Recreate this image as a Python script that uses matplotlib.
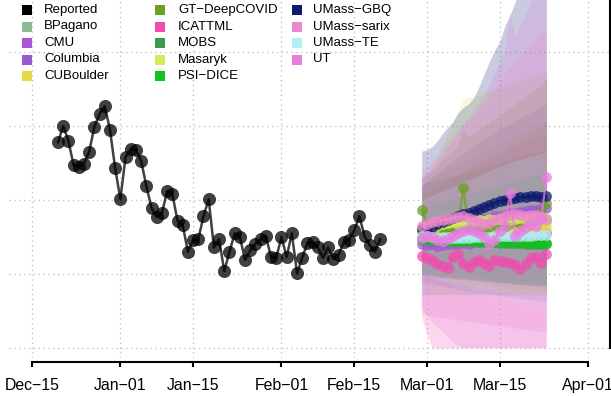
import numpy as np
import matplotlib
matplotlib.use("Agg")
import matplotlib.pyplot as plt
import matplotlib.dates as mdates

plt.rcParams['font.family'] = ['Liberation Sans', 'DejaVu Sans']

# Reported daily values (y units: gridlines at 0..4), starting Dec-20
report_start = np.datetime64('2020-12-20')
reported = [2.78, 3.00, 2.80, 2.47, 2.45, 2.49, 2.65, 2.99, 3.16, 3.27,
            2.95, 2.43, 2.01, 2.58, 2.69, 2.68, 2.53, 2.19, 1.89, 1.77,
            1.82, 2.12, 2.08, 1.72, 1.66, 1.30, 1.46, 1.47, 1.78, 2.01,
            1.36, 1.47, 1.04, 1.30, 1.55, 1.50, 1.19, 1.32, 1.41, 1.47,
            1.51, 1.23, 1.22, 1.50, 1.23, 1.55, 1.01, 1.22, 1.42, 1.43,
            1.36, 1.22, 1.36, 1.20, 1.26, 1.43, 1.46, 1.59, 1.78, 1.51,
            1.39, 1.30, 1.47]

# Forecasts: 25 daily points from Feb-28
fc_start = np.datetime64('2021-02-28')

bpagano_med = [1.60, 1.62, 1.61, 1.63, 1.62, 1.64, 1.63, 1.65, 1.64, 1.66, 1.65, 1.67, 1.66,
               1.68, 1.67, 1.69, 1.68, 1.70, 1.69, 1.71, 1.70, 1.72, 1.71, 1.73, 1.72]
bpagano_lo = [1.05, 1.03, 1.02, 1.00, 0.99, 0.97, 0.96, 0.95, 0.93, 0.92, 0.91, 0.90, 0.88,
              0.87, 0.86, 0.85, 0.84, 0.83, 0.82, 0.81, 0.80, 0.79, 0.78, 0.77, 0.76]
bpagano_hi = [2.20, 2.25, 2.28, 2.33, 2.36, 2.40, 2.44, 2.47, 2.52, 2.55, 2.58, 2.62, 2.66,
              2.69, 2.72, 2.76, 2.80, 2.83, 2.86, 2.90, 2.93, 2.96, 3.00, 3.03, 3.07]

cmu_med = [1.40, 1.39, 1.40, 1.38, 1.39, 1.40, 1.41, 1.40, 1.42, 1.41, 1.43, 1.44, 1.43,
           1.45, 1.44, 1.46, 1.47, 1.46, 1.48, 1.49, 1.50, 1.51, 1.52, 1.53, 1.55]
cmu_lo = [0.90, 0.88, 0.87, 0.85, 0.84, 0.82, 0.81, 0.80, 0.78, 0.77, 0.76, 0.75, 0.74,
          0.73, 0.72, 0.71, 0.70, 0.69, 0.68, 0.67, 0.66, 0.65, 0.64, 0.63, 0.62]
cmu_hi = [2.05, 2.10, 2.14, 2.18, 2.22, 2.26, 2.30, 2.34, 2.38, 2.42, 2.45, 2.49, 2.52,
          2.56, 2.60, 2.63, 2.66, 2.70, 2.73, 2.76, 2.80, 2.83, 2.86, 2.89, 2.92]

columbia_med = [1.58, 1.60, 1.61, 1.63, 1.64, 1.66, 1.67, 1.68, 1.70, 1.71, 1.72, 1.74, 1.75,
                1.76, 1.78, 1.79, 1.80, 1.82, 1.83, 1.84, 1.85, 1.86, 1.87, 1.88, 1.89]
columbia_lo = [1.10, 1.09, 1.08, 1.07, 1.06, 1.05, 1.04, 1.03, 1.02, 1.01, 1.00, 0.99, 0.98,
               0.97, 0.96, 0.95, 0.94, 0.93, 0.92, 0.92, 0.91, 0.91, 0.90, 0.90, 0.89]
columbia_hi = [2.20, 2.26, 2.31, 2.37, 2.42, 2.48, 2.53, 2.58, 2.63, 2.68, 2.73, 2.78, 2.82,
               2.86, 2.91, 2.95, 2.99, 3.03, 3.07, 3.11, 3.15, 3.18, 3.22, 3.26, 3.30]

cuboulder_med = [1.58, 1.60, 1.62, 1.61, 1.63, 1.65, 1.64, 1.66, 1.68, 1.67, 1.66, 1.64, 1.63,
                 1.65, 1.67, 1.66, 1.64, 1.63, 1.62, 1.64, 1.63, 1.62, 1.61, 1.63, 1.64]
cuboulder_lo = [1.00, 0.98, 0.97, 0.95, 0.94, 0.92, 0.91, 0.90, 0.88, 0.87, 0.86, 0.85, 0.84,
                0.83, 0.82, 0.81, 0.80, 0.79, 0.78, 0.77, 0.76, 0.75, 0.74, 0.73, 0.72]
cuboulder_hi = [2.10, 2.15, 2.19, 2.23, 2.27, 2.31, 2.35, 2.38, 2.42, 2.45, 2.49, 2.52, 2.56,
                2.60, 2.64, 2.67, 2.70, 2.74, 2.78, 2.81, 2.85, 2.88, 2.92, 2.96, 3.00]

gt_med = [1.86, 1.68, 1.64, 1.61, 1.58, 1.57, 1.58, 1.65, 2.16, 1.65, 1.61, 1.58, 1.61,
          1.64, 1.68, 1.66, 1.64, 1.69, 1.72, 1.68, 1.72, 1.74, 1.77, 1.82, 1.96]
gt_lo = [1.05, 1.02, 1.00, 0.98, 0.97, 0.96, 0.95, 0.94, 0.95, 0.93, 0.92, 0.91, 0.90,
         0.90, 0.89, 0.89, 0.88, 0.88, 0.87, 0.87, 0.86, 0.86, 0.85, 0.85, 0.86]
gt_hi = [2.30, 2.35, 2.40, 2.45, 2.55, 2.60, 2.65, 2.75, 2.95, 2.85, 2.90, 2.95, 3.00,
         3.05, 3.10, 3.15, 3.20, 3.25, 3.30, 3.35, 3.40, 3.45, 3.50, 3.55, 3.65]

icattml_med = [1.24, 1.22, 1.19, 1.14, 1.11, 1.08, 1.23, 1.27, 1.15, 1.09, 1.16, 1.19, 1.15,
               1.11, 1.19, 1.18, 1.16, 1.15, 1.12, 1.07, 1.14, 1.22, 1.23, 1.15, 1.27]
icattml_lo = [0.42, 0.18, 0.00, 0.00, 0.00, 0.00, 0.00, 0.00, 0.00, 0.00, 0.00, 0.00, 0.00,
              0.00, 0.00, 0.00, 0.00, 0.00, 0.00, 0.00, 0.00, 0.00, 0.00, 0.00, 0.00]
icattml_hi = [1.65, 1.68, 1.70, 1.75, 1.78, 1.80, 1.78, 1.82, 1.85, 1.84, 1.86, 1.88, 1.90,
              1.92, 1.92, 1.95, 1.96, 1.98, 2.00, 2.00, 2.02, 2.05, 2.06, 2.08, 2.10]

mobs_med = [1.48, 1.47, 1.47, 1.46, 1.46, 1.45, 1.45, 1.45, 1.44, 1.44, 1.44, 1.43, 1.43,
            1.43, 1.43, 1.42, 1.42, 1.42, 1.42, 1.42, 1.41, 1.41, 1.41, 1.41, 1.41]
mobs_lo = [0.72, 0.72, 0.72, 0.72, 0.72, 0.72, 0.72, 0.72, 0.72, 0.72, 0.72, 0.72, 0.72,
           0.72, 0.72, 0.72, 0.72, 0.72, 0.72, 0.72, 0.72, 0.72, 0.72, 0.72, 0.72]
mobs_hi = [2.20, 2.22, 2.24, 2.26, 2.28, 2.30, 2.32, 2.34, 2.36, 2.38, 2.40, 2.42, 2.44,
           2.46, 2.48, 2.50, 2.52, 2.54, 2.56, 2.58, 2.60, 2.62, 2.64, 2.66, 2.68]

masaryk_med = [1.62, 1.64, 1.66, 1.65, 1.67, 1.69, 1.70, 1.68, 1.70, 1.72, 1.71, 1.73, 1.72,
               1.74, 1.73, 1.75, 1.74, 1.73, 1.75, 1.76, 1.74, 1.75, 1.76, 1.77, 1.76]
masaryk_lo = [1.10, 1.05, 1.00, 0.98, 0.95, 0.93, 0.90, 0.88, 0.86, 0.84, 0.82, 0.80, 0.79,
              0.78, 0.77, 0.76, 0.75, 0.74, 0.74, 0.73, 0.73, 0.72, 0.72, 0.71, 0.71]
masaryk_hi = [2.20, 2.30, 2.45, 2.60, 2.75, 2.90, 3.05, 3.20, 3.36, 3.38, 3.40, 3.42, 3.45,
              3.48, 3.50, 3.52, 3.55, 3.58, 3.60, 3.62, 3.64, 3.66, 3.68, 3.70, 3.72]

psi_med = [1.47, 1.47, 1.46, 1.46, 1.46, 1.45, 1.45, 1.45, 1.45, 1.44, 1.44, 1.44, 1.44,
           1.43, 1.43, 1.43, 1.43, 1.43, 1.42, 1.42, 1.42, 1.42, 1.42, 1.42, 1.42]
psi_lo = [1.00, 0.99, 0.99, 0.98, 0.97, 0.97, 0.96, 0.95, 0.95, 0.94, 0.93, 0.93, 0.92,
          0.91, 0.91, 0.90, 0.89, 0.89, 0.88, 0.87, 0.87, 0.86, 0.86, 0.85, 0.85]
psi_hi = [1.90, 1.92, 1.94, 1.96, 1.98, 2.00, 2.02, 2.04, 2.06, 2.08, 2.10, 2.12, 2.14,
          2.16, 2.18, 2.20, 2.22, 2.24, 2.26, 2.28, 2.30, 2.32, 2.34, 2.36, 2.38]

gbq_med = [1.61, 1.62, 1.64, 1.68, 1.70, 1.73, 1.76, 1.78, 1.81, 1.82, 1.85, 1.88, 1.91,
           1.93, 1.96, 1.99, 2.00, 2.01, 2.03, 2.04, 2.04, 2.05, 2.05, 2.04, 2.05]
gbq_lo = [1.00, 0.98, 0.97, 0.96, 0.95, 0.95, 0.94, 0.93, 0.93, 0.92, 0.92, 0.91, 0.90,
          0.90, 0.89, 0.88, 0.88, 0.87, 0.86, 0.86, 0.85, 0.85, 0.84, 0.84, 0.83]
gbq_hi = [2.66, 2.68, 2.72, 2.80, 2.90, 2.98, 3.06, 3.18, 3.25, 3.30, 3.38, 3.53, 3.70,
          3.87, 4.02, 4.14, 4.35, 4.50, 4.68, 4.85, 5.00, 5.15, 5.30, 5.45, 5.60]

sarix_med = [1.65, 1.68, 1.70, 1.72, 1.73, 1.74, 1.76, 1.77, 1.78, 1.76, 1.73, 1.70, 1.68,
             1.69, 1.73, 1.76, 1.78, 1.80, 1.81, 1.80, 1.78, 1.80, 1.80, 1.77, 1.74]
sarix_lo = [0.45, 0.44, 0.43, 0.42, 0.41, 0.40, 0.39, 0.38, 0.37, 0.36, 0.35, 0.34, 0.33,
            0.32, 0.31, 0.30, 0.29, 0.28, 0.27, 0.26, 0.25, 0.24, 0.23, 0.23, 0.22]
sarix_hi = [2.40, 2.45, 2.55, 2.60, 2.70, 2.80, 2.85, 2.95, 3.05, 3.10, 3.15, 3.25, 3.30,
            3.40, 3.50, 3.60, 3.70, 3.80, 3.85, 3.95, 4.05, 4.10, 4.20, 4.25, 4.30]

te_med = [1.51, 1.51, 1.50, 1.50, 1.50, 1.50, 1.49, 1.49, 1.49, 1.49, 1.50, 1.50, 1.50,
          1.50, 1.51, 1.51, 1.51, 1.51, 1.52, 1.52, 1.52, 1.52, 1.53, 1.53, 1.53]
te_lo = [1.00, 0.97, 0.95, 0.92, 0.90, 0.88, 0.85, 0.83, 0.81, 0.79, 0.77, 0.75, 0.73,
         0.71, 0.69, 0.67, 0.65, 0.63, 0.62, 0.60, 0.59, 0.58, 0.57, 0.56, 0.55]
te_hi = [2.00, 2.03, 2.06, 2.09, 2.12, 2.15, 2.18, 2.21, 2.24, 2.27, 2.30, 2.33, 2.36,
         2.39, 2.42, 2.45, 2.48, 2.51, 2.53, 2.55, 2.57, 2.59, 2.61, 2.63, 2.65]

ut_med = [1.49, 1.51, 1.50, 1.46, 1.45, 1.47, 1.51, 1.55, 1.58, 1.61, 1.58, 1.55, 1.50,
          1.41, 1.46, 1.58, 1.65, 2.09, 1.51, 1.58, 1.64, 1.68, 1.65, 1.74, 2.31]
ut_lo = [0.55, 0.45, 0.35, 0.28, 0.22, 0.15, 0.08, 0.03, 0.00, 0.00, 0.00, 0.00, 0.00,
         0.00, 0.00, 0.00, 0.00, 0.00, 0.00, 0.00, 0.00, 0.00, 0.00, 0.00, 0.00]
ut_hi = [2.30, 2.35, 2.45, 2.50, 2.60, 2.70, 2.80, 2.90, 3.00, 3.10, 3.20, 3.30, 3.40,
         3.55, 3.70, 3.85, 4.00, 4.55, 4.20, 4.35, 4.50, 4.65, 4.80, 4.95, 5.40]

model_names = ['BPagano', 'CMU', 'Columbia', 'CUBoulder', 'GT\u2212DeepCOVID', 'ICATTML',
               'MOBS', 'Masaryk', 'PSI\u2212DICE', 'UMass\u2212GBQ', 'UMass\u2212sarix',
               'UMass\u2212TE', 'UT']
model_colors = ['#8fbc8f', '#a855d6', '#9b59d0', '#e6d84a', '#6aa121', '#ee4fae',
                '#3d9a4e', '#ccee5a', '#14c01e', '#0d1b6e', '#ee88cc', '#b4eef4', '#e87de0']

tick_dates = ['2020-12-15', '2021-01-01', '2021-01-15', '2021-02-01',
              '2021-02-15', '2021-03-01', '2021-03-15', '2021-04-01']
tick_labels = ['Dec\u221215', 'Jan\u221201', 'Jan\u221215', 'Feb\u221201',
               'Feb\u221215', 'Mar\u221201', 'Mar\u221215', 'Apr\u221201']


def main():
    meds = [bpagano_med, cmu_med, columbia_med, cuboulder_med, gt_med, icattml_med,
            mobs_med, masaryk_med, psi_med, gbq_med, sarix_med, te_med, ut_med]
    los = [bpagano_lo, cmu_lo, columbia_lo, cuboulder_lo, gt_lo, icattml_lo,
           mobs_lo, masaryk_lo, psi_lo, gbq_lo, sarix_lo, te_lo, ut_lo]
    his = [bpagano_hi, cmu_hi, columbia_hi, cuboulder_hi, gt_hi, icattml_hi,
           mobs_hi, masaryk_hi, psi_hi, gbq_hi, sarix_hi, te_hi, ut_hi]

    rep_x = mdates.date2num(report_start + np.arange(len(reported)))
    fc_x = mdates.date2num(fc_start + np.arange(len(gbq_med)))
    ticks = mdates.date2num(np.array(tick_dates, dtype='datetime64[D]'))

    W, H = 611, 396
    fig = plt.figure(figsize=(W / 100, H / 100), dpi=100)
    ax = fig.add_axes([9 / W, (H - 358) / H, 601 / W, 358 / H])

    ax.set_xlim(ticks[0] - 4.43, ticks[-1] + 4.23)
    ax.set_ylim(-10 / 74, 348 / 74)

    # dotted grid
    for yv in range(5):
        ax.axhline(yv, color='#c4c4c4', lw=1, ls=(0, (1, 2.5)), zorder=0)
    for xv in ticks:
        ax.axvline(xv, color='#c4c4c4', lw=1, ls=(0, (1, 2.5)), zorder=0)

    # forecast intervals
    for lo, hi, c in zip(los, his, model_colors):
        ax.fill_between(fc_x, lo, hi, color=c, alpha=0.22, lw=0, zorder=1)

    # medians
    for med, c in zip(meds, model_colors):
        ax.plot(fc_x, med, '-o', color=c, alpha=0.75, lw=1.6, ms=7.8, mew=0, zorder=3)

    ax.plot(rep_x, reported, '-o', color='black', alpha=0.75, lw=1.8, ms=9.4, mew=0, zorder=4)

    for s in ['left', 'top']:
        ax.spines[s].set_visible(False)
    ax.spines['right'].set_bounds(0, 348 / 74)
    ax.spines['right'].set_linewidth(1.5)
    ax.spines['bottom'].set_position(('outward', 3))
    ax.spines['bottom'].set_bounds(ticks[0], ticks[-1])
    ax.spines['bottom'].set_linewidth(1.5)
    ax.set_yticks([])
    ax.set_xticks(ticks)
    ax.set_xticklabels(tick_labels, fontsize=11.4)
    ax.tick_params(axis='x', direction='out', length=3.5, width=1.5, pad=8)

    # legend in three columns
    names = ['Reported'] + model_names
    colors = ['black'] + model_colors
    col_sq = [27, 160, 297]
    col_tx = [44, 178, 313]
    rows = [10, 26.5, 43, 59.5, 76]
    for i, (nm, c) in enumerate(zip(names, colors)):
        col, row = i // 5, i % 5
        fig.add_artist(plt.Line2D([col_sq[col] / W], [1 - rows[row] / H], marker='s',
                                  ms=6.6, mew=0, color=c, transform=fig.transFigure))
        fig.text(col_tx[col] / W, 1 - rows[row] / H, nm, fontsize=9.5, va='center', ha='left')

    fig.savefig('out.png', dpi=100)


if __name__ == "__main__":
    main()
